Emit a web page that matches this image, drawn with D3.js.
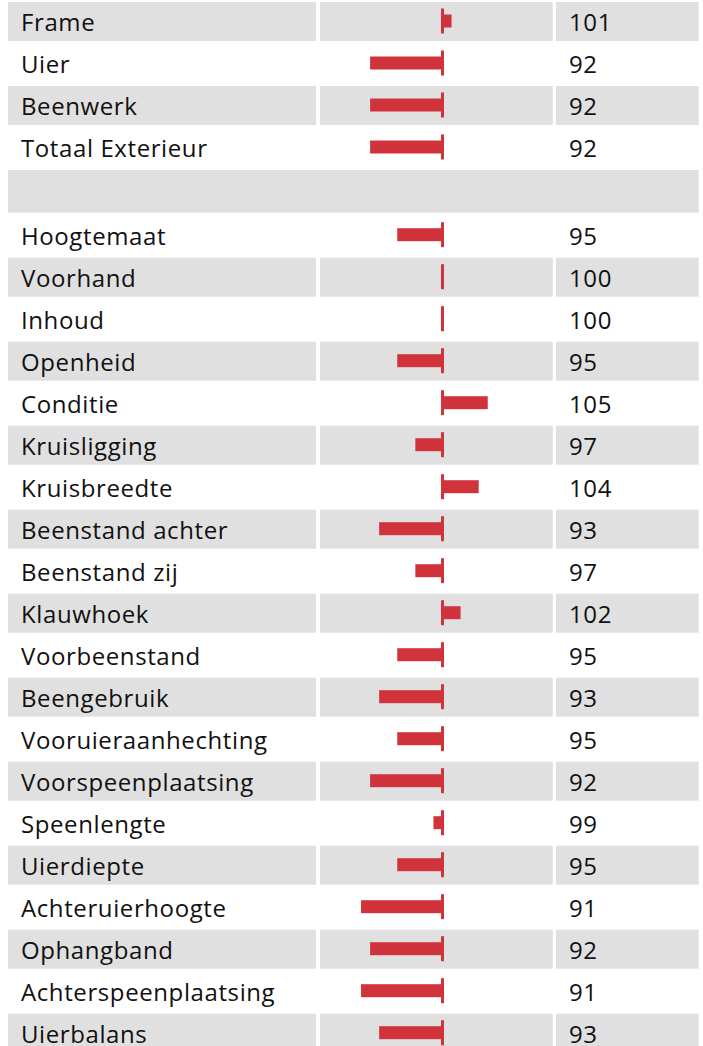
<!DOCTYPE html>
<html>
<head>
<meta charset="utf-8">
<script src="https://cdn.jsdelivr.net/npm/d3@7"></script>
<style>
  html, body { margin: 0; padding: 0; background: #ffffff; }
  svg { display: block; }
</style>
</head>
<body>
<div id="chart"></div>
<script>
// ---- data ----
const labels = [
  "Frame", "Uier", "Beenwerk", "Totaal Exterieur", "",
  "Hoogtemaat", "Voorhand", "Inhoud", "Openheid", "Conditie",
  "Kruisligging", "Kruisbreedte", "Beenstand achter", "Beenstand zij", "Klauwhoek",
  "Voorbeenstand", "Beengebruik", "Vooruieraanhechting", "Voorspeenplaatsing", "Speenlengte",
  "Uierdiepte", "Achteruierhoogte", "Ophangband", "Achterspeenplaatsing", "Uierbalans"
];
const values = [
  101, 92, 92, 92, null,
  95, 100, 100, 95, 105,
  97, 104, 93, 97, 102,
  95, 93, 95, 92, 99,
  95, 91, 92, 91, 93
];
const baseline = 100;

// ---- layout ----
const W = 703, H = 1046;
const pitch = 42, cellH = 39;
const sepIndex = values.indexOf(null);
const sepExtra = 3.7;

const svg = d3.select("#chart").append("svg")
  .attr("width", W).attr("height", H);

const yBand = d3.scaleBand()
  .domain(d3.range(labels.length))
  .range([5.7, 5.7 + pitch * labels.length])
  .paddingInner(0);

function rowTop(i) { return yBand(i) - (i <= sepIndex ? sepExtra : 0); }
function rowH(i) { return i === sepIndex ? cellH + sepExtra : cellH; }

const x = d3.scaleLinear().domain([88, 112]).range([442.5 - 12 * 9.05, 442.5 + 12 * 9.05]);

const cols = [
  { x0: 8, x1: 316 },
  { x0: 320, x1: 552.7 },
  { x0: 556, x1: 698.7 }
];

const rows = labels.map((l, i) => ({ label: l, value: values[i], i }));

const g = svg.selectAll("g.row").data(rows).join("g").attr("class", "row");

// backgrounds
g.each(function(d) {
  const sel = d3.select(this);
  if (d.i % 2 !== 0) return;
  if (d.i === sepIndex) {
    sel.append("rect").attr("x", cols[0].x0).attr("width", cols[2].x1 - cols[0].x0)
      .attr("y", rowTop(d.i)).attr("height", rowH(d.i)).attr("fill", "#e0e0e0");
  } else {
    cols.forEach(c => {
      sel.append("rect").attr("x", c.x0).attr("width", c.x1 - c.x0)
        .attr("y", rowTop(d.i)).attr("height", rowH(d.i)).attr("fill", "#e0e0e0");
    });
  }
});

const red = "#d1333c";
const dataRows = g.filter(d => d.value !== null);

// bars
dataRows.append("rect")
  .attr("x", d => Math.min(x(d.value), x(baseline)))
  .attr("width", d => Math.abs(x(d.value) - x(baseline)))
  .attr("y", d => rowTop(d.i) + cellH / 2 - 7)
  .attr("height", 13)
  .attr("fill", red);

// baseline tick
dataRows.append("rect")
  .attr("x", x(baseline) - 1.5)
  .attr("width", 3)
  .attr("y", d => rowTop(d.i) + cellH / 2 - 13)
  .attr("height", 25)
  .attr("fill", red);

const font = "'Open Sans', 'Noto Sans', sans-serif";

// labels
dataRows.append("text")
  .attr("x", 21)
  .attr("y", d => rowTop(d.i) + cellH / 2 + 9.6)
  .attr("font-family", font)
  .attr("font-size", 24)
  .attr("letter-spacing", "0.6px")
  .attr("fill", "#111111")
  .text(d => d.label);

// values
dataRows.append("text")
  .attr("x", 569)
  .attr("y", d => rowTop(d.i) + cellH / 2 + 9.6)
  .attr("font-family", font)
  .attr("font-size", 24)
  .attr("letter-spacing", "0.6px")
  .attr("fill", "#111111")
  .text(d => d.value);
</script>
</body>
</html>
